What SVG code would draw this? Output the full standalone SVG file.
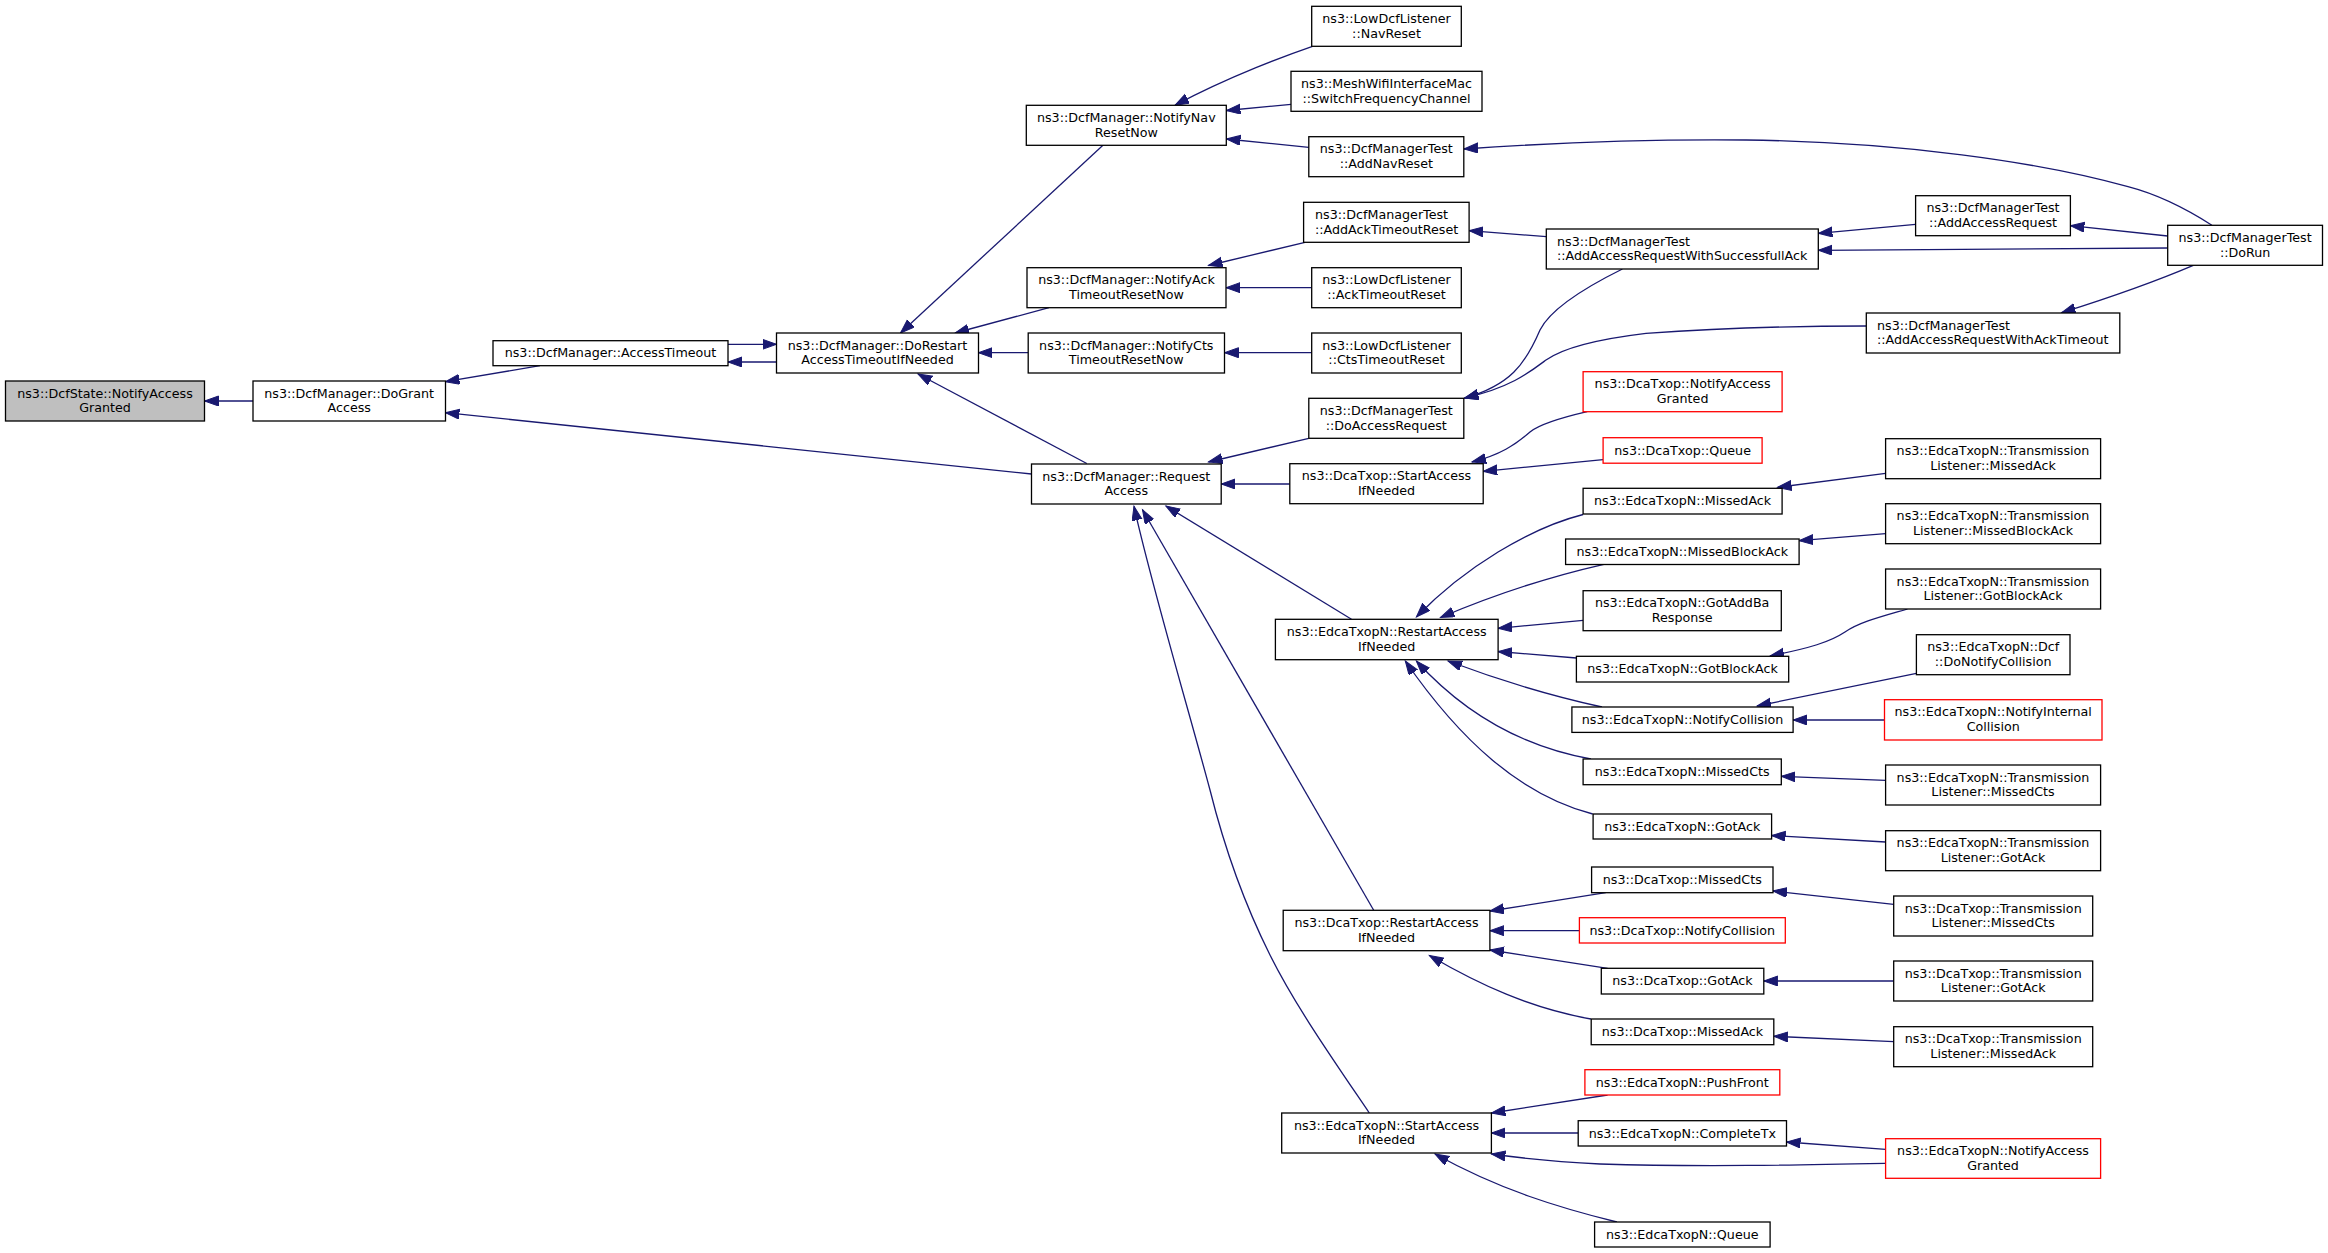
<svg xmlns="http://www.w3.org/2000/svg" width="2328" height="1253" viewBox="0 0 2328 1253">
<style>
.node rect{fill:#fff;stroke:#000;stroke-width:1.3}
.node.red rect{stroke:#f00}
.node.cur rect{fill:#bfbfbf}
.node text{font-family:"DejaVu Sans","Liberation Sans",sans-serif;font-size:12.7px;fill:#000;text-anchor:middle}
.node.left text{text-anchor:start}
#edges path{fill:none;stroke:#191970;stroke-width:1.3;marker-end:url(#ah)}
</style>
<defs>
<marker id="ah" markerWidth="16" markerHeight="12" refX="14" refY="5" orient="auto" markerUnits="userSpaceOnUse">
<path d="M0,0 L14,5 L0,10 z" fill="#191970" stroke="#191970" stroke-width="1"/>
</marker>
</defs>
<rect width="2328" height="1253" fill="#fff"/>
<g id="edges">
<path d="M253,401 L204.5,401"/>
<path d="M540,365.7 L445.4,381.7"/>
<path d="M1031.5,474 L445.4,412.7"/>
<path d="M776.5,362 L728,362"/>
<path d="M728,344.3 L776.5,344.3"/>
<path d="M1103.2,145 L900.5,333"/>
<path d="M1049,307.7 L955,333"/>
<path d="M1028.2,352.7 L978.4,352.7"/>
<path d="M1086.8,463.5 L918,374"/>
<path d="M1312.5,46.3 C1290,54 1230,76 1175,105.3"/>
<path d="M1291,104.3 L1226.4,110.5"/>
<path d="M1308.8,147.3 L1226.4,139"/>
<path d="M2211.9,225.3 C2185,208 2160,195 2128,186.7 C2040,162 1900,142 1746,140 C1650,139 1550,143 1464,149"/>
<path d="M1305,242.3 L1208.5,265.5"/>
<path d="M1311.7,287.7 L1226,287.7"/>
<path d="M1311.7,352.7 L1224.5,352.7"/>
<path d="M1546.3,236.7 L1469.1,230.7"/>
<path d="M1915.6,224.3 L1818.4,233.3"/>
<path d="M2167.7,248 L1818.4,250.3"/>
<path d="M2167.7,236 L2070.4,225.7"/>
<path d="M2193.3,265.3 Q2140,288 2061.5,312.7"/>
<path d="M1622.4,269 C1580,290 1550,310 1540,330 C1525,365 1510,385 1464.7,398.3"/>
<path d="M1866.3,326 C1800,326 1720,328 1646,333.3 C1590,340 1560,350 1546,360 C1530,372 1510,388 1464.5,398"/>
<path d="M1308.8,438.3 L1208.5,462"/>
<path d="M1289.8,484 L1221.2,484"/>
<path d="M1587.2,411.7 C1560,418 1540,424 1530,432 C1515,445 1500,455 1472,462"/>
<path d="M1603.1,459.7 L1483.2,471.3"/>
<path d="M1351.5,619.3 L1165.9,506"/>
<path d="M1373.7,910.3 L1142.5,509.7"/>
<path d="M1369.3,1113 C1330,1055 1295,1005 1270,955 C1245,905 1225,850 1210,790 C1190,715 1150,580 1134,506.3"/>
<path d="M1583.1,514.5 C1530,528 1465,567 1416.4,617"/>
<path d="M1603.9,564.3 C1570,572 1510,588 1440.5,617.5"/>
<path d="M1583.1,620.3 L1498.1,628.3"/>
<path d="M1576.4,658 L1498.1,651.5"/>
<path d="M1602,707 C1570,700 1520,688 1448,661"/>
<path d="M1590.9,759 C1530,748 1470,720 1416.4,661"/>
<path d="M1592.7,814 C1520,795 1460,740 1405.3,661"/>
<path d="M1885.6,473.3 L1777.6,487.3"/>
<path d="M1885.6,533.7 L1799.1,540.7"/>
<path d="M1907.5,609 C1880,617 1860,622 1845,632 C1830,642 1810,648 1770.1,656"/>
<path d="M1916.4,673.3 L1757.1,706"/>
<path d="M1884.5,720 L1793.1,720"/>
<path d="M1885.6,780.3 L1781.3,776.3"/>
<path d="M1885.6,842 L1771.6,835.5"/>
<path d="M1605.7,892.7 L1489.9,911"/>
<path d="M1579.4,930.7 L1489.9,930.7"/>
<path d="M1607.6,968.3 L1489.9,950"/>
<path d="M1590.9,1019 C1530,1008 1480,985 1429.4,955.5"/>
<path d="M1893.7,904.3 L1773,891"/>
<path d="M1893.7,981 L1763.8,981"/>
<path d="M1893.7,1041.7 L1773.8,1036.3"/>
<path d="M1607.6,1095 L1491.4,1113"/>
<path d="M1578.2,1133 L1491.4,1133"/>
<path d="M1885.6,1163.3 C1800,1165 1700,1167 1600,1164 C1560,1162 1520,1158 1491.4,1154"/>
<path d="M1616.9,1222 C1560,1208 1500,1190 1435,1154"/>
<path d="M1885.6,1149.3 L1786.5,1142"/>
</g>
<g id="n0" class="node cur"><rect x="5.5" y="381" width="199" height="40"/><text x="105" y="397.6">ns3::DcfState::NotifyAccess</text><text x="105" y="412.3">Granted</text></g>
<g id="n1" class="node"><rect x="253" y="381" width="192.5" height="40"/><text x="349.2" y="397.6">ns3::DcfManager::DoGrant</text><text x="349.2" y="412.3">Access</text></g>
<g id="n2" class="node"><rect x="493" y="340.7" width="235" height="25"/><text x="610.5" y="357.3">ns3::DcfManager::AccessTimeout</text></g>
<g id="n3" class="node"><rect x="776.5" y="333" width="202" height="40"/><text x="877.5" y="349.6">ns3::DcfManager::DoRestart</text><text x="877.5" y="364.3">AccessTimeoutIfNeeded</text></g>
<g id="n4" class="node"><rect x="1026.3" y="105.3" width="200" height="40"/><text x="1126.3" y="121.9">ns3::DcfManager::NotifyNav</text><text x="1126.3" y="136.6">ResetNow</text></g>
<g id="n5" class="node"><rect x="1027" y="267.7" width="199" height="40"/><text x="1126.5" y="284.3">ns3::DcfManager::NotifyAck</text><text x="1126.5" y="299">TimeoutResetNow</text></g>
<g id="n6" class="node"><rect x="1028.2" y="333" width="196.3" height="40"/><text x="1126.3" y="349.6">ns3::DcfManager::NotifyCts</text><text x="1126.3" y="364.3">TimeoutResetNow</text></g>
<g id="n7" class="node"><rect x="1311.7" y="6.3" width="149.6" height="40"/><text x="1386.5" y="22.9">ns3::LowDcfListener</text><text x="1386.5" y="37.6">::NavReset</text></g>
<g id="n8" class="node"><rect x="1291" y="71.3" width="191" height="40"/><text x="1386.5" y="87.9">ns3::MeshWifiInterfaceMac</text><text x="1386.5" y="102.6">::SwitchFrequencyChannel</text></g>
<g id="n9" class="node"><rect x="1308.8" y="136.7" width="155" height="40"/><text x="1386.3" y="153.3">ns3::DcfManagerTest</text><text x="1386.3" y="168">::AddNavReset</text></g>
<g id="n10" class="node left"><rect x="1303.6" y="202.3" width="165.5" height="40"/><text x="1315" y="218.9">ns3::DcfManagerTest</text><text x="1315" y="233.6">::AddAckTimeoutReset</text></g>
<g id="n11" class="node"><rect x="1311.7" y="267.7" width="149.6" height="40"/><text x="1386.5" y="284.3">ns3::LowDcfListener</text><text x="1386.5" y="299">::AckTimeoutReset</text></g>
<g id="n12" class="node"><rect x="1311.7" y="333" width="149.6" height="40"/><text x="1386.5" y="349.6">ns3::LowDcfListener</text><text x="1386.5" y="364.3">::CtsTimeoutReset</text></g>
<g id="n13" class="node left"><rect x="1546.3" y="229" width="272" height="40"/><text x="1557" y="245.6">ns3::DcfManagerTest</text><text x="1557" y="260.3">::AddAccessRequestWithSuccessfullAck</text></g>
<g id="n14" class="node"><rect x="1915.6" y="195.7" width="154.8" height="40"/><text x="1993" y="212.3">ns3::DcfManagerTest</text><text x="1993" y="227">::AddAccessRequest</text></g>
<g id="n15" class="node"><rect x="2167.7" y="225.3" width="154.8" height="40"/><text x="2245.1" y="241.9">ns3::DcfManagerTest</text><text x="2245.1" y="256.6">::DoRun</text></g>
<g id="n16" class="node left"><rect x="1866.3" y="313" width="253.5" height="40"/><text x="1877" y="329.6">ns3::DcfManagerTest</text><text x="1877" y="344.3">::AddAccessRequestWithAckTimeout</text></g>
<g id="n17" class="node"><rect x="1308.8" y="398.3" width="155" height="40"/><text x="1386.3" y="414.9">ns3::DcfManagerTest</text><text x="1386.3" y="429.6">::DoAccessRequest</text></g>
<g id="n18" class="node red"><rect x="1583.1" y="371.7" width="199" height="40"/><text x="1682.6" y="388.3">ns3::DcaTxop::NotifyAccess</text><text x="1682.6" y="403">Granted</text></g>
<g id="n19" class="node"><rect x="1031.5" y="464" width="189.7" height="40"/><text x="1126.3" y="480.6">ns3::DcfManager::Request</text><text x="1126.3" y="495.3">Access</text></g>
<g id="n20" class="node"><rect x="1289.8" y="463.7" width="193.4" height="40"/><text x="1386.5" y="480.3">ns3::DcaTxop::StartAccess</text><text x="1386.5" y="495">IfNeeded</text></g>
<g id="n21" class="node red"><rect x="1603.1" y="437.7" width="159" height="25.5"/><text x="1682.6" y="454.5">ns3::DcaTxop::Queue</text></g>
<g id="n22" class="node"><rect x="1583.1" y="488.3" width="199" height="25.7"/><text x="1682.6" y="505.2">ns3::EdcaTxopN::MissedAck</text></g>
<g id="n23" class="node"><rect x="1565.6" y="539" width="233.5" height="25.5"/><text x="1682.3" y="555.8">ns3::EdcaTxopN::MissedBlockAck</text></g>
<g id="n24" class="node"><rect x="1583.1" y="590.7" width="198.2" height="40"/><text x="1682.2" y="607.3">ns3::EdcaTxopN::GotAddBa</text><text x="1682.2" y="622">Response</text></g>
<g id="n25" class="node"><rect x="1576.4" y="656.3" width="212.3" height="25.7"/><text x="1682.5" y="673.2">ns3::EdcaTxopN::GotBlockAck</text></g>
<g id="n26" class="node"><rect x="1571.9" y="707" width="221.2" height="25.4"/><text x="1682.5" y="723.8">ns3::EdcaTxopN::NotifyCollision</text></g>
<g id="n27" class="node"><rect x="1583.1" y="759" width="198.2" height="25.7"/><text x="1682.2" y="775.9">ns3::EdcaTxopN::MissedCts</text></g>
<g id="n28" class="node"><rect x="1593.1" y="814" width="178.5" height="25"/><text x="1682.3" y="830.6">ns3::EdcaTxopN::GotAck</text></g>
<g id="n29" class="node"><rect x="1275.4" y="619.3" width="222.7" height="40.4"/><text x="1386.7" y="635.9">ns3::EdcaTxopN::RestartAccess</text><text x="1386.7" y="650.6">IfNeeded</text></g>
<g id="n30" class="node"><rect x="1885.6" y="438.7" width="215" height="40"/><text x="1993" y="455.3">ns3::EdcaTxopN::Transmission</text><text x="1993" y="470">Listener::MissedAck</text></g>
<g id="n31" class="node"><rect x="1885.6" y="503.7" width="215" height="40"/><text x="1993" y="520.3">ns3::EdcaTxopN::Transmission</text><text x="1993" y="535">Listener::MissedBlockAck</text></g>
<g id="n32" class="node"><rect x="1885.6" y="569" width="215" height="40"/><text x="1993" y="585.6">ns3::EdcaTxopN::Transmission</text><text x="1993" y="600.3">Listener::GotBlockAck</text></g>
<g id="n33" class="node"><rect x="1916.4" y="634.7" width="153.6" height="40"/><text x="1993.2" y="651.3">ns3::EdcaTxopN::Dcf</text><text x="1993.2" y="666">::DoNotifyCollision</text></g>
<g id="n34" class="node red"><rect x="1884.5" y="699.7" width="217.5" height="40.3"/><text x="1993.2" y="716.3">ns3::EdcaTxopN::NotifyInternal</text><text x="1993.2" y="731">Collision</text></g>
<g id="n35" class="node"><rect x="1885.6" y="765" width="215" height="40"/><text x="1993" y="781.6">ns3::EdcaTxopN::Transmission</text><text x="1993" y="796.3">Listener::MissedCts</text></g>
<g id="n36" class="node"><rect x="1885.6" y="830.7" width="215" height="40"/><text x="1993" y="847.3">ns3::EdcaTxopN::Transmission</text><text x="1993" y="862">Listener::GotAck</text></g>
<g id="n37" class="node"><rect x="1591.6" y="867" width="181.4" height="25.7"/><text x="1682.3" y="883.9">ns3::DcaTxop::MissedCts</text></g>
<g id="n38" class="node"><rect x="1283.2" y="910.3" width="206.7" height="40.4"/><text x="1386.5" y="926.9">ns3::DcaTxop::RestartAccess</text><text x="1386.5" y="941.6">IfNeeded</text></g>
<g id="n39" class="node red"><rect x="1579.4" y="917.7" width="205.9" height="25.3"/><text x="1682.3" y="934.5">ns3::DcaTxop::NotifyCollision</text></g>
<g id="n40" class="node"><rect x="1601.3" y="968.3" width="162.5" height="25.7"/><text x="1682.5" y="985.2">ns3::DcaTxop::GotAck</text></g>
<g id="n41" class="node"><rect x="1591.2" y="1019" width="182.6" height="25.7"/><text x="1682.5" y="1035.9">ns3::DcaTxop::MissedAck</text></g>
<g id="n42" class="node red"><rect x="1584.9" y="1069.7" width="194.9" height="25.3"/><text x="1682.3" y="1086.5">ns3::EdcaTxopN::PushFront</text></g>
<g id="n43" class="node"><rect x="1281.7" y="1113" width="209.7" height="40"/><text x="1386.5" y="1129.6">ns3::EdcaTxopN::StartAccess</text><text x="1386.5" y="1144.3">IfNeeded</text></g>
<g id="n44" class="node"><rect x="1578.2" y="1120.7" width="208.3" height="25.3"/><text x="1682.3" y="1137.5">ns3::EdcaTxopN::CompleteTx</text></g>
<g id="n45" class="node"><rect x="1594.6" y="1222" width="175.5" height="25"/><text x="1682.3" y="1238.6">ns3::EdcaTxopN::Queue</text></g>
<g id="n46" class="node"><rect x="1893.7" y="896" width="199" height="40"/><text x="1993.2" y="912.6">ns3::DcaTxop::Transmission</text><text x="1993.2" y="927.3">Listener::MissedCts</text></g>
<g id="n47" class="node"><rect x="1893.7" y="961" width="199" height="40"/><text x="1993.2" y="977.6">ns3::DcaTxop::Transmission</text><text x="1993.2" y="992.3">Listener::GotAck</text></g>
<g id="n48" class="node"><rect x="1893.7" y="1026.7" width="199" height="40"/><text x="1993.2" y="1043.3">ns3::DcaTxop::Transmission</text><text x="1993.2" y="1058">Listener::MissedAck</text></g>
<g id="n49" class="node red"><rect x="1885.6" y="1138.7" width="215" height="39.6"/><text x="1993" y="1155.3">ns3::EdcaTxopN::NotifyAccess</text><text x="1993" y="1170">Granted</text></g>
</svg>
